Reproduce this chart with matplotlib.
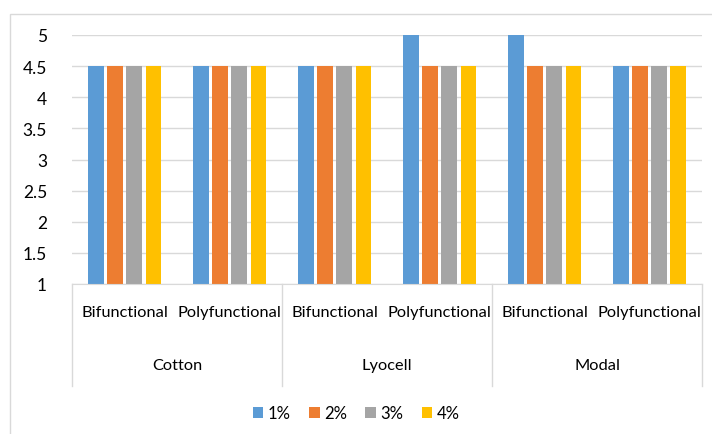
import numpy as np
import matplotlib.pyplot as plt
from matplotlib.patches import Rectangle

# Данные
fibers = ['Cotton', 'Lyocell', 'Modal']
types = ['Bifunctional', 'Polyfunctional']
series = ['1%', '2%', '3%', '4%']
colors = ['#5B9BD5', '#ED7D31', '#A5A5A5', '#FFC000']

v1 = [4.5, 4.5, 4.5, 5, 5, 4.5]
v2 = [4.5, 4.5, 4.5, 4.5, 4.5, 4.5]
v3 = [4.5, 4.5, 4.5, 4.5, 4.5, 4.5]
v4 = [4.5, 4.5, 4.5, 4.5, 4.5, 4.5]
values = [v1, v2, v3, v4]

plt.rcParams['font.family'] = ['Lato', 'DejaVu Sans']
W, H = 712, 435
fig = plt.figure(figsize=(W / 100, H / 100), dpi=100)

# рамка вокруг диаграммы
fig.patches.append(Rectangle((10 / W, -0.1), 1.2, 1.1 - 15 / H, transform=fig.transFigure,
                             fill=False, edgecolor='#D9D9D9', linewidth=1))

left, right, top, bottom = 72, 702, 36, 285
ax = fig.add_axes([left / W, 1 - bottom / H, (right - left) / W, (bottom - top) / H])

n = len(v1)
x = np.arange(n)
bw = 0.143
step = 0.181
for i, (vals, c, s) in enumerate(zip(values, colors, series)):
    off = (i - 1.5) * step
    ax.bar(x + off, np.array(vals) - 1, bw, bottom=1, color=c, label=s, zorder=3)

ax.set_xlim(-0.5, n - 0.5)
ax.set_ylim(1, 5)
ax.set_yticks(np.arange(1, 5.01, 0.5))
ax.set_yticklabels(['1', '1.5', '2', '2.5', '3', '3.5', '4', '4.5', '5'])
ax.yaxis.grid(True, color='#D9D9D9', linewidth=1)
ax.tick_params(axis='y', length=0, pad=18, labelsize=12.5, labelcolor='#000000')
ax.set_xticks([])
for sp in ['top', 'right', 'left']:
    ax.spines[sp].set_visible(False)
ax.spines['bottom'].set_color('#D9D9D9')
ax.spines['bottom'].set_zorder(4)

# многоуровневая ось категорий
px = 1 / (bottom - top)
axis_depth = (387 - bottom) * px
for k in range(len(fibers) + 1):
    xk = -0.5 + 2 * k
    ax.plot([xk, xk], [0, -axis_depth], transform=ax.get_xaxis_transform(),
            color='#D9D9D9', linewidth=1, clip_on=False)
for j in range(n):
    ax.text(x[j], -(313 - bottom) * px, types[j % 2], transform=ax.get_xaxis_transform(),
            ha='center', va='center', fontsize=11.8)
for k, f in enumerate(fibers):
    ax.text(2 * k + 0.5, -(366 - bottom) * px, f, transform=ax.get_xaxis_transform(),
            ha='center', va='center', fontsize=11.8)

fig.legend(loc='center', bbox_to_anchor=(356 / W, 1 - 414 / H), ncol=4, frameon=False,
           fontsize=12, handlelength=0.65, handleheight=0.65, handletextpad=0.25,
           columnspacing=1.1)

fig.savefig('out.png', dpi=100)
